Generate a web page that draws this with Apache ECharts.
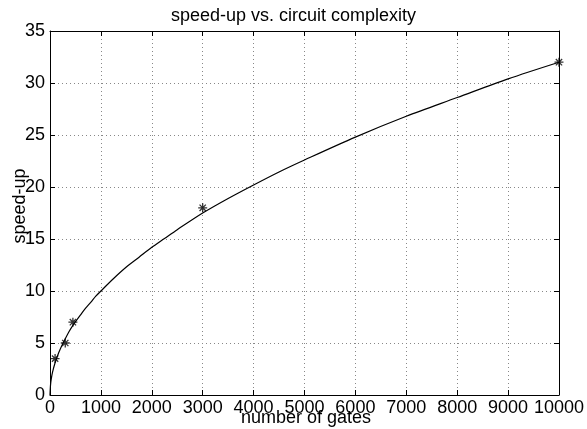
<!DOCTYPE html>
<html>
<head>
<meta charset="utf-8">
<script src="https://cdn.jsdelivr.net/npm/echarts@6/dist/echarts.min.js"></script>
<style>html,body{margin:0;padding:0;background:#fff;}#c{width:587px;height:429px;}</style>
</head>
<body>
<div id="c"></div>
<script>
var titleText = 'speed-up vs. circuit complexity';
var xName = 'number of gates';
var yName = 'speed-up';
var curveX = [0, 10, 25, 50, 100, 150, 200, 300, 375, 450, 600, 700, 800, 900, 1000, 1250, 1500, 1750, 2000, 2250, 2500, 3000, 3500, 4000, 4500, 5000, 6000, 7000, 8000, 9000, 10000];
var curveY = [0, 0.95, 1.55, 2.2, 3.1, 3.8, 4.4, 5.4, 6.1, 6.7, 7.7, 8.35, 8.9, 9.5, 10.0, 11.2, 12.3, 13.25, 14.2, 15.05, 15.9, 17.5, 18.9, 20.2, 21.45, 22.6, 24.8, 26.8, 28.6, 30.4, 32.0];
var pointX = [100, 300, 450, 3000, 10000];
var pointY = [3.5, 5, 7, 18, 32];

var FONT = '"Liberation Sans", Arial, Helvetica, sans-serif';
var chart = echarts.init(document.getElementById('c'), null, {renderer: 'canvas'});
var curve = curveX.map(function (x, i) { return [x, curveY[i]]; });
var pts = pointX.map(function (x, i) { return [x, pointY[i]]; });
var dotted = {show: true, lineStyle: {color: '#888', type: [1, 3], width: 1}};
var blackLine = {show: true, onZero: false, lineStyle: {color: '#000', width: 1}};
var plain = function (v) { return String(v); };
chart.setOption({
  animation: false,
  backgroundColor: '#fff',
  grid: {left: 50, right: 24, top: 31, bottom: 34, containLabel: false},
  graphic: [
    {type: 'text', left: 'center', x: 0, top: 7, style: {text: titleText, font: '18px ' + FONT, fill: '#000'}},
    {type: 'text', x: 306, y: 418, style: {text: xName, font: '18px ' + FONT, fill: '#000', align: 'center', verticalAlign: 'middle'}},
    {type: 'text', x: 20, y: 206, rotation: Math.PI / 2, style: {text: yName, font: '18px ' + FONT, fill: '#000', align: 'center', verticalAlign: 'middle'}}
  ],
  xAxis: [
    {type: 'value', min: 0, max: 10000, interval: 1000, position: 'bottom',
     axisLine: blackLine, axisTick: {show: true, inside: true, length: 5, lineStyle: {color: '#000'}},
     axisLabel: {color: '#000', fontSize: 18, fontFamily: FONT, margin: 4, formatter: plain},
     splitLine: dotted},
    {type: 'value', min: 0, max: 10000, interval: 1000, position: 'top',
     axisLine: blackLine, axisTick: {show: true, inside: true, length: 5, lineStyle: {color: '#000'}},
     axisLabel: {show: false}, splitLine: {show: false}}
  ],
  yAxis: [
    {type: 'value', min: 0, max: 35, interval: 5, position: 'left',
     axisLine: blackLine, axisTick: {show: true, inside: true, length: 5, lineStyle: {color: '#000'}},
     axisLabel: {color: '#000', fontSize: 18, fontFamily: FONT, margin: 5, formatter: plain},
     splitLine: dotted},
    {type: 'value', min: 0, max: 35, interval: 5, position: 'right',
     axisLine: blackLine, axisTick: {show: true, inside: true, length: 5, lineStyle: {color: '#000'}},
     axisLabel: {show: false}, splitLine: {show: false}}
  ],
  series: [
    {type: 'line', data: curve, smooth: 0.3, showSymbol: false, symbol: 'none',
     lineStyle: {color: '#000', width: 1.2}, z: 3},
    {type: 'scatter', data: pts, symbol: 'path://M5,0L5,10M0,5L10,5M1.5,1.5L8.5,8.5M8.5,1.5L1.5,8.5',
     symbolSize: 9, itemStyle: {color: 'rgba(0,0,0,0)', borderColor: '#000', borderWidth: 1.3}, z: 4}
  ]
});
</script>
</body>
</html>
